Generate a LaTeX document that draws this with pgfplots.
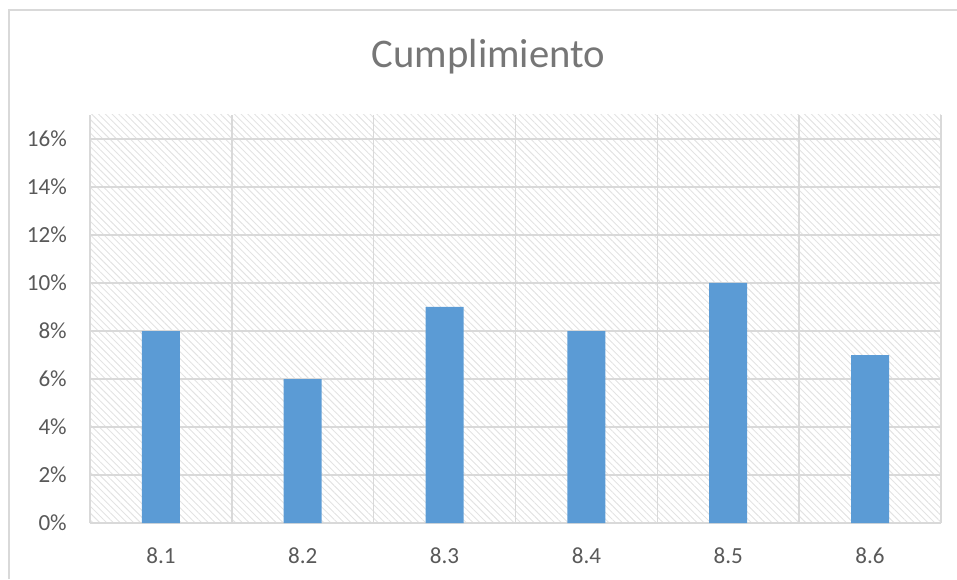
\documentclass[border=0pt]{standalone}
\usepackage{pgfplots}
\pgfplotsset{compat=1.18}
\usepackage{fontspec}
\setmainfont{Carlito}
\usetikzlibrary{patterns.meta}

\definecolor{barblue}{HTML}{5B9BD5}
\definecolor{gridgray}{HTML}{D9D9D9}
\definecolor{ticktext}{HTML}{595959}
\definecolor{titletext}{HTML}{767676}

\begin{document}
\begin{tikzpicture}
% page = 957 x 579 px, 1px = 0.75pt
\path[use as bounding box] (0pt,0pt) rectangle (717.75pt,434.25pt);
\draw[gridgray, line width=0.9pt] (6.75pt,0pt) -- (6.75pt,426.75pt) -- (717.75pt,426.75pt);

\begin{axis}[
    at={(67.5pt,42pt)}, anchor=south west,
    scale only axis,
    width=638.25pt, height=306pt,
    xmin=-0.5, xmax=5.5,
    ymin=0, ymax=17,
    xtick={0,1,2,3,4,5},
    xticklabels={8.1,8.2,8.3,8.4,8.5,8.6},
    minor xtick={-0.5,0.5,1.5,2.5,3.5,4.5,5.5},
    ytick={0,2,4,6,8,10,12,14,16},
    yticklabel={\pgfmathprintnumber{\tick}\%},
    /pgf/number format/assume math mode=true,
    major tick length=0pt, minor tick length=0pt,
    xmajorgrids=false, xminorgrids=true, ymajorgrids=true,
    grid style={gridgray, line width=1.2pt},
    minor grid style={gridgray, line width=1.2pt},
    axis line style={draw=none},
    tick label style={text=ticktext, font=\fontsize{17.3}{20}\selectfont},
    xticklabel style={anchor=base, yshift=-30.2pt},
    yticklabel style={anchor=east, inner sep=0pt, xshift=-17.25pt},
    axis background/.style={pattern={Lines[angle=-45,distance=3.6pt,line width=0.7pt]}, pattern color=black!11},
]
\addplot[ybar, bar width=28.5pt, fill=barblue, draw=none]
coordinates {
    (0, 8)
    (1, 6)
    (2, 9)
    (3, 8)
    (4, 10)
    (5, 7)
};
\end{axis}

\node[anchor=base, text=titletext, font=\fontsize{30.5}{36}\selectfont]
    at (366.4pt,383.6pt) {Cumplimiento};
\end{tikzpicture}
\end{document}
